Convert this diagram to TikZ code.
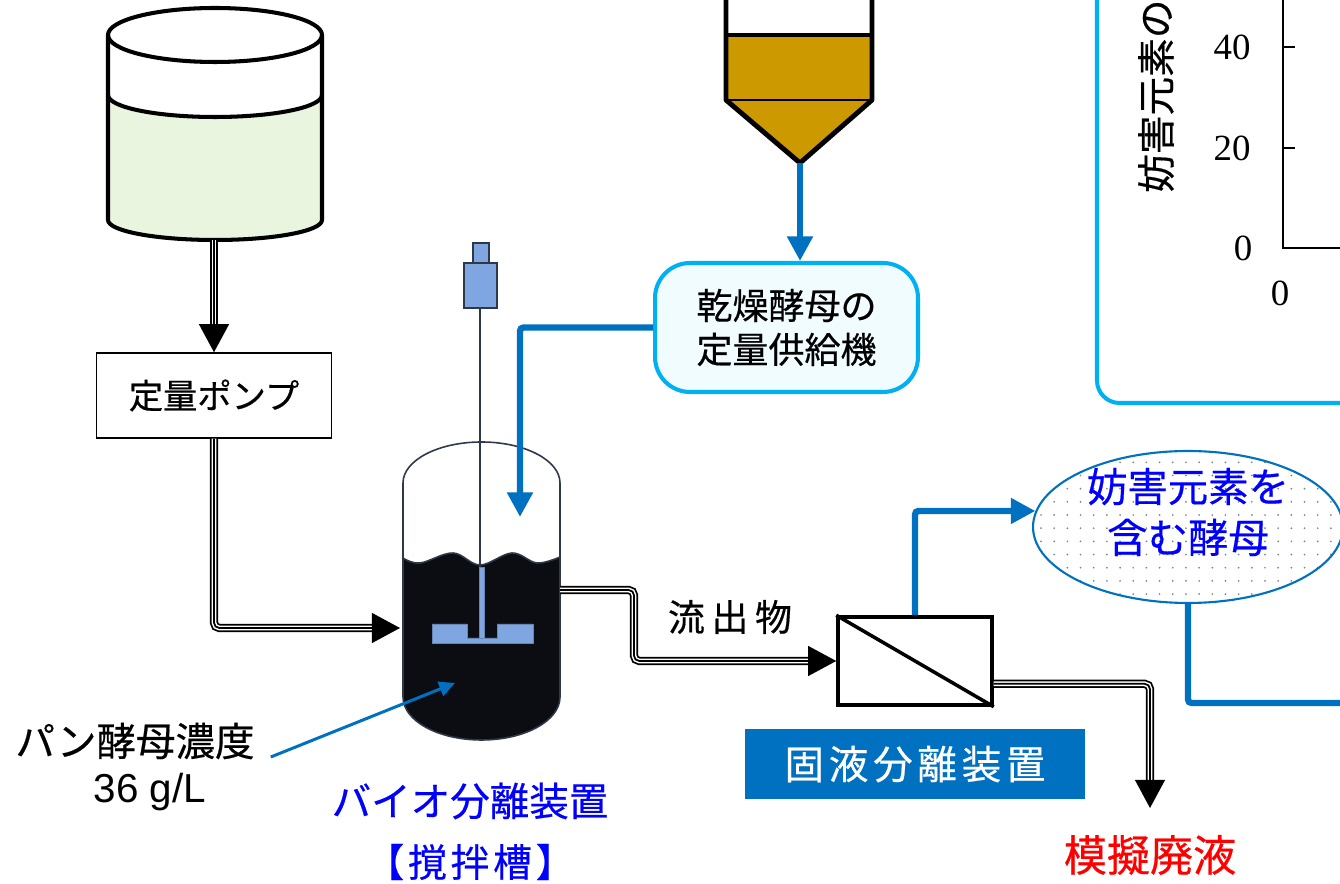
\documentclass[tikz,border=0pt]{standalone}
\usepackage{fontspec}
\setmainfont{Noto Sans CJK JP}[FakeBold=0.5]
\newfontfamily\latinsans{Liberation Sans}
\newfontfamily\latinserif{Liberation Serif}
\usepackage{xcolor}
\usetikzlibrary{arrows.meta,positioning,shapes.geometric,patterns.meta}
\definecolor{procBlue}{RGB}{0,112,192}
\definecolor{procCyan}{RGB}{0,176,240}
\definecolor{procPale}{RGB}{240,252,255}
\definecolor{procAmber}{RGB}{204,153,0}
\definecolor{procGreen}{RGB}{233,245,222}
\definecolor{procSlate}{RGB}{46,56,72}
\definecolor{procInk}{RGB}{12,13,18}
\definecolor{procMotor}{RGB}{127,166,224}
\definecolor{procText}{RGB}{0,0,255}
\definecolor{procRed}{RGB}{255,0,0}
\newcommand{\fsz}[2]{\fontsize{#1}{#2}\selectfont}

\begin{document}
\begin{tikzpicture}[
    x=0.02cm, y=-0.02cm,
    pipe/.style={line width=1pt, rounded corners=3pt,
        preaction={draw, -, line width=1pt, double=white, double distance=2.7pt, shorten >=9pt},
        -{Triangle[length=16pt, width=17pt]}},
    feed/.style={draw=procBlue, line width=3.6pt, rounded corners=2pt},
    feedarrow/.style={feed, -{Triangle[length=14pt, width=14pt]}},
    note/.style={draw=procBlue, line width=1.7pt, -{Triangle[length=9pt, width=8.5pt]}},
    tankline/.style={line width=2.3pt, line join=round},
    hopperline/.style={line width=2.8pt, line join=round},
    vesselline/.style={draw=procSlate, line width=0.9pt},
    motor/.style={fill=procMotor, draw=procSlate, line width=0.9pt},
    impeller/.style={fill=procMotor, draw=procMotor!80!black, line width=0.4pt},
    boxP/.style={rectangle, draw, line width=0.85pt, minimum width=4.7cm, minimum height=1.7cm, font=\fsz{19.5}{24}},
    boxF/.style={rectangle, rounded corners=0.7cm, draw=procCyan, fill=procPale, line width=2.3pt, minimum width=5.26cm, minimum height=2.58cm, align=center, font=\fsz{20.5}{25}},
    boxS/.style={rectangle, draw, line width=2pt, minimum width=3.08cm, minimum height=1.76cm},
    boxL/.style={rectangle, fill=procBlue, text=white, minimum width=6.8cm, minimum height=1.4cm, font=\fsz{22.5}{28}\addfontfeature{LetterSpace=12}},
    oval/.style={ellipse, draw=procBlue, line width=1.2pt, pattern={Dots[distance=7.5pt, radius=0.55pt]}, pattern color=gray, minimum width=6.2cm, minimum height=3.04cm, inner sep=0pt},
    ovaltext/.style={align=center, text=procText, font=\fsz{23}{29}},
    labK/.style={font=\fsz{22.5}{28}},
    labB/.style={font=\fsz{22.5}{28}, text=procText},
    labR/.style={font=\fsz{24.5}{28}, text=procRed},
    ticklab/.style={font=\latinserif\fsz{21}{24}},
    panel/.style={draw=procCyan, line width=2.3pt, rounded corners=0.45cm},
    axisline/.style={line width=0.6pt}
]
\useasboundingbox (0,0) rectangle (1340,884);

\fill[procGreen] (108,95) arc[start angle=180, end angle=0, x radius=107, y radius=22] -- (322,220) arc[start angle=0, end angle=180, x radius=107, y radius=20] -- cycle;
\draw[tankline] (108,35) -- (108,220) arc[start angle=180, end angle=0, x radius=107, y radius=20] -- (322,35);
\draw[tankline] (108,95) arc[start angle=180, end angle=0, x radius=107, y radius=22];
\draw[tankline] (215,35) ellipse[x radius=107, y radius=27];
\coordinate (stock out) at (214,240);

\fill[procAmber] (726,35) -- (872,35) -- (872,100) -- (800,163) -- (726,100) -- cycle;
\draw[line width=0.9pt] (726,100) -- (872,100);
\draw[hopperline] (726,-10) -- (726,100) -- (800,163) -- (872,100) -- (872,-10);
\draw[hopperline] (726,35) -- (872,35);
\coordinate (hopper out) at (800,163);

\fill[procInk] (403,558) -- plot[smooth, tension=0.6] coordinates {(403,558) (420,563) (453,553) (480,565) (512,553) (537,563) (560,557)} -- (560,697) arc[start angle=0, end angle=180, x radius=78.5, y radius=43] -- cycle;
\draw[vesselline] plot[smooth, tension=0.6] coordinates {(403,558) (420,563) (453,553) (480,565) (512,553) (537,563) (560,557)};
\draw[vesselline] (403,483) arc[start angle=180, end angle=360, x radius=78.5, y radius=41] -- (560,697) arc[start angle=0, end angle=180, x radius=78.5, y radius=43] -- cycle;
\draw[procSlate, line width=0.9pt] (480,307) -- (480,567);
\draw[motor] (473,243) rectangle (489,263);
\draw[motor] (464,263) rectangle (497,308);
\filldraw[impeller] (479,567) rectangle (484,640);
\filldraw[impeller] (432,624) -- (467,624) -- (467,638) -- (497,638) -- (497,624) -- (533,624) -- (533,643) -- (432,643) -- cycle;
\coordinate (reactor in) at (400,628);
\coordinate (reactor out) at (560,590);
\coordinate (feed in) at (520,517);
\coordinate (probe) at (455,683);

\node[boxP] (pump) at (214,395.5) {定量ポンプ};
\node[boxF] (feeder) at (786.5,327.5) {乾燥酵母の\\定量供給機};
\node[boxS] (separator) at (915,661) {};
\draw[line width=2pt] (separator.north west) -- (separator.south east);
\node[boxL, below=0.44cm of separator] (seplabel) {固液分離装置};
\node[oval] (yeast) at (1188,527) {};
\node[ovaltext] (yeasttext) at (1188,512) {妨害元素を\\含む酵母};
\coordinate (drain) at (1150,808);
\coordinate (spill) at (1350,703);

\draw[pipe] (stock out) -- (pump.north);
\draw[pipe] (pump.south) |- (reactor in);
\draw[pipe] (reactor out) -- ++(74,0) |- (separator.west);
\draw[pipe] ([yshift=-13pt]separator.east) -| (drain);
\draw[feedarrow] (hopper out) -- (hopper out |- feeder.north);
\draw[feedarrow] (feeder.west) -| (feed in);
\draw[feedarrow] (separator.north) |- (yeast.174);
\draw[feed] (yeast.south) |- (spill);

\node[labK] (conc) at (135,741) {パン酵母濃度};
\node[labK, font=\latinsans\fsz{23}{28}] (concval) at (150,792) {36 g/L};
\draw[note] ([shift={(10,16)}]conc.east) -- (probe);
\node[labK, font=\fsz{21}{26}\addfontfeature{LetterSpace=18}] (outflow) at (730,617) {流出物};
\node[labB] (biosep) at (470,801) {バイオ分離装置};
\node[labB, font=\fsz{22}{28}\addfontfeature{LetterSpace=10}] (stirred) at (470,862) {【撹拌槽】};
\node[labR] (waste) at (1150,855) {模擬廃液};

\draw[panel] (1097,-60) rectangle (1420,403);
\node[labK, font=\fsz{22}{26}, rotate=90, anchor=west] (ytitle) at (1156,199) {妨害元素の};
\draw[axisline] (1283,-10) -- (1283,248) -- (1360,248);
\foreach \yv/\yl in {47/40,148/20} {
    \draw[axisline] (1283,\yv) -- (1295,\yv);
    \node[ticklab] (tick\yl) at (1232,\yv) {\yl};
}
\node[ticklab] (tick0) at (1243,248) {0};
\node[ticklab] (xtick0) at (1280,293) {0};
\end{tikzpicture}
\end{document}
